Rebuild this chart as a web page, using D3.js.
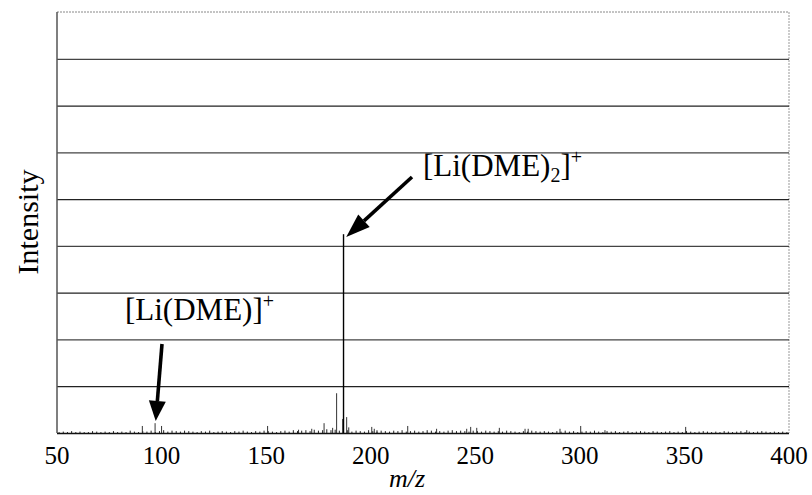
<!DOCTYPE html>
<html><head><meta charset="utf-8">
<script src="https://cdn.jsdelivr.net/npm/d3@7"></script>
<style>
html,body{margin:0;padding:0;background:#fff;}
svg{display:block;}
text{font-family:"Liberation Serif","Times New Roman",serif;fill:#000;}
</style></head>
<body>
<script>
// ---- data ----
const xTicks = [50, 100, 150, 200, 250, 300, 350, 400];
const gridLevels = [1, 2, 3, 4, 5, 6, 7, 8];
// notable peaks (m/z) and intensities (in grid units, 9 units = full scale)
const peakMz  = [90.8, 96.9, 100.0, 150.7, 165.5, 171.8, 177.7, 181.8, 183.7, 186.6, 187.0, 188.5, 189.5, 200.5, 201.7, 203.0, 217.7, 231.5, 245.9, 247.8, 250.7, 261.5, 273.8, 275.3, 290.5, 300.4, 312.0, 350.6, 379.8];
const peakInt = [0.15, 0.21, 0.15, 0.15, 0.07, 0.09, 0.21, 0.11, 0.85, 0.30, 4.25, 0.34, 0.12, 0.13, 0.09, 0.06, 0.15, 0.09, 0.09, 0.13, 0.11, 0.11, 0.09, 0.09, 0.09, 0.15, 0.06, 0.13, 0.06];
// baseline noise, m/z 51..399 step 2
const noiseStart = 51, noiseStep = 2;
const noiseInt = [
0.02,0.03,0.02,0.04,0.02,0.03,0.02,0.02,0.04,0.03,0.02,0.03,0.02,0.04,0.02,0.03,0.02,0.05,0.03,0.02,
0.04,0.03,0.05,0.02,0.04,0.06,0.03,0.05,0.04,0.03,0.05,0.04,0.03,0.02,0.04,0.03,0.05,0.02,0.03,0.04,
0.03,0.02,0.04,0.03,0.05,0.03,0.02,0.04,0.03,0.05,0.04,0.03,0.02,0.04,0.05,0.03,0.06,0.04,0.05,0.06,
0.04,0.07,0.05,0.06,0.08,0.06,0.07,0.05,0.04,0.06,0.03,0.05,0.04,0.03,0.06,0.04,0.03,0.05,0.04,0.03,
0.05,0.04,0.06,0.03,0.04,0.05,0.03,0.04,0.06,0.05,0.03,0.04,0.03,0.05,0.06,0.04,0.05,0.04,0.03,0.05,
0.04,0.03,0.05,0.04,0.03,0.04,0.03,0.05,0.04,0.03,0.02,0.04,0.03,0.05,0.04,0.03,0.04,0.03,0.02,0.04,
0.03,0.05,0.03,0.04,0.02,0.03,0.04,0.03,0.05,0.03,0.02,0.04,0.03,0.04,0.02,0.03,0.04,0.02,0.03,0.04,
0.03,0.02,0.04,0.03,0.02,0.03,0.04,0.02,0.03,0.02,0.04,0.03,0.02,0.03,0.04,0.03,0.02,0.03,0.02,0.04,
0.03,0.02,0.03,0.04,0.02,0.03,0.02,0.03,0.04,0.03,0.02,0.03,0.02,0.03,0.02
];
const labelMain = {text: "[Li(DME)", sub: "2", tail: "]", sup: "+"};
const labelSmall = {text: "[Li(DME)]", sup: "+"};

// ---- chart ----
const W = 812, H = 495;
const svg = d3.select("body").append("svg").attr("width", W).attr("height", H);
const x = d3.scaleLinear().domain([50, 400]).range([57, 789]);
const y = d3.scaleLinear().domain([0, 9]).range([433, 12]);

// frame: top & right dotted
svg.append("line").attr("x1", x(50)).attr("x2", x(400)).attr("y1", y(9)).attr("y2", y(9))
  .attr("stroke", "#888").attr("stroke-width", 1).attr("stroke-dasharray", "2,1");
svg.append("line").attr("x1", x(400)).attr("x2", x(400)).attr("y1", y(9)).attr("y2", y(0))
  .attr("stroke", "#999").attr("stroke-width", 1).attr("stroke-dasharray", "2,1");

// gridlines
svg.append("g").selectAll("line").data(gridLevels).join("line")
  .attr("x1", x(50)).attr("x2", x(400))
  .attr("y1", d => y(d) + 0.5).attr("y2", d => y(d) + 0.5)
  .attr("stroke", (d, i) => i % 2 ? "#444" : "#222").attr("stroke-width", 1.3);

// left axis
svg.append("line").attr("x1", x(50)).attr("x2", x(50)).attr("y1", y(9)).attr("y2", y(0))
  .attr("stroke", "#555").attr("stroke-width", 1.5);

// noise sticks
const noiseData = noiseInt.map((v, i) => ({mz: noiseStart + i * noiseStep, v}));
svg.append("g").selectAll("line").data(noiseData).join("line")
  .attr("x1", d => x(d.mz)).attr("x2", d => x(d.mz))
  .attr("y1", y(0)).attr("y2", d => y(d.v))
  .attr("stroke", "#222").attr("stroke-width", 1);

// peaks
const peaks = peakMz.map((m, i) => ({mz: m, v: peakInt[i]}));
svg.append("g").selectAll("line").data(peaks).join("line")
  .attr("x1", d => x(d.mz)).attr("x2", d => x(d.mz))
  .attr("y1", y(0)).attr("y2", d => y(d.v))
  .attr("stroke", d => d.v > 1 ? "#000" : "#333").attr("stroke-width", d => d.v > 1 ? 1.4 : 1);

// baseline
svg.append("line").attr("x1", x(50)).attr("x2", x(400)).attr("y1", y(0) + 0.5).attr("y2", y(0) + 0.5)
  .attr("stroke", "#111").attr("stroke-width", 1.4);

// x tick labels
svg.append("g").selectAll("text").data(xTicks).join("text")
  .attr("x", d => x(d)).attr("y", 464)
  .attr("text-anchor", "middle").attr("font-size", 25)
  .text(d => d);

// axis titles
svg.append("text").attr("x", 407).attr("y", 487).attr("text-anchor", "middle")
  .attr("font-size", 26).attr("font-style", "italic").text("m/z");
svg.append("text").attr("transform", "translate(38,222) rotate(-90)")
  .attr("text-anchor", "middle").attr("font-size", 30).text("Intensity");

// arrows
function arrow(x1, y1, x2, y2, headLen, headW, sw) {
  const a = Math.atan2(y2 - y1, x2 - x1);
  const bx = x2 - headLen * Math.cos(a), by = y2 - headLen * Math.sin(a);
  svg.append("line").attr("x1", x1).attr("y1", y1).attr("x2", bx).attr("y2", by)
    .attr("stroke", "#000").attr("stroke-width", sw);
  const px = -Math.sin(a) * headW / 2, py = Math.cos(a) * headW / 2;
  svg.append("path").attr("d", `M${x2},${y2}L${bx + px},${by + py}L${bx - px},${by - py}Z`).attr("fill", "#000");
}
arrow(412, 177, x(188.3), 237, 24, 17, 3.6);
arrow(162, 344, x(97.2), 421, 20, 17, 3.6);

// labels
const t1 = svg.append("text").attr("x", 423).attr("y", 176).attr("font-size", 31);
t1.append("tspan").text(labelMain.text);
t1.append("tspan").attr("font-size", 20).attr("dy", 6).text(labelMain.sub);
t1.append("tspan").attr("dy", -6).text(labelMain.tail);
t1.append("tspan").attr("font-size", 20).attr("dy", -12).text(labelMain.sup);

const t2 = svg.append("text").attr("x", 125).attr("y", 320).attr("font-size", 31);
t2.append("tspan").text(labelSmall.text);
t2.append("tspan").attr("font-size", 20).attr("dy", -12).text(labelSmall.sup);
</script>
</body></html>
